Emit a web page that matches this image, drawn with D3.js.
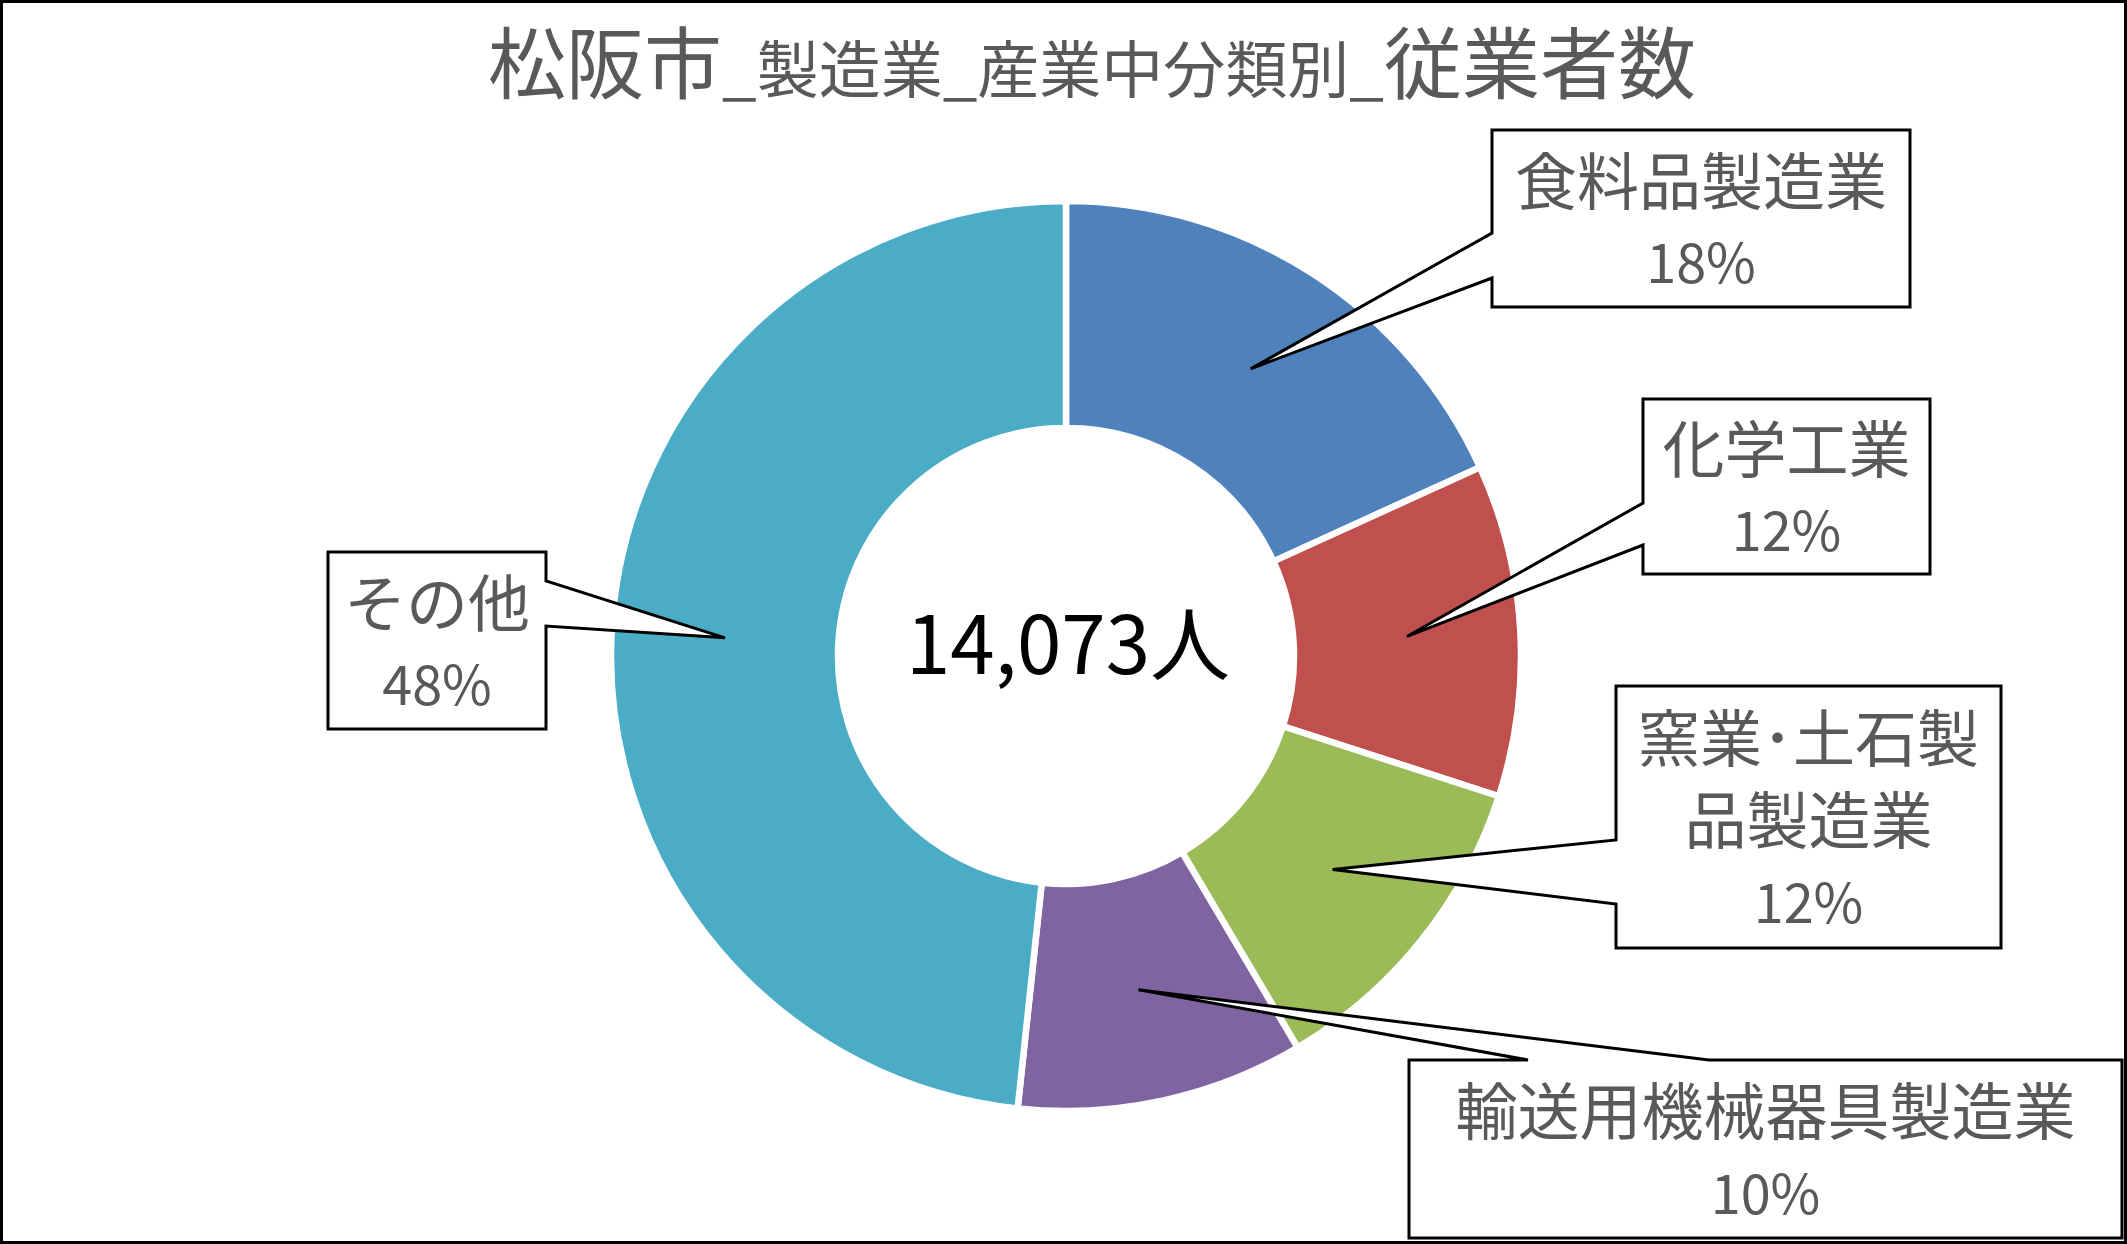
<!DOCTYPE html>
<html>
<head>
<meta charset="utf-8">
<script src="https://cdn.jsdelivr.net/npm/d3@7"></script>
<style>
  html, body { margin: 0; padding: 0; background: #fff; }
  svg { display: block; }
  text { font-family: "Noto Sans CJK JP", "Noto Sans", sans-serif; }
</style>
</head>
<body>
<svg id="chart" width="2127" height="1244"></svg>
<script>
// ---- data ----
const categories = ["食料品製造業", "化学工業", "窯業･土石製品製造業", "輸送用機械器具製造業", "その他"];
const labelLines = [["食料品製造業"], ["化学工業"], ["窯業･土石製", "品製造業"], ["輸送用機械器具製造業"], ["その他"]];
const employees = [2560, 1660, 1620, 1435, 6798];
const colors = ["#4F81BD", "#C0504D", "#9BBB59", "#8064A2", "#4BACC6"];
const titleParts = [
  { text: "松阪市", big: true },
  { text: "_製造業_産業中分類別_", big: false },
  { text: "従業者数", big: true }
];
const unitLabel = "人";

// ---- layout ----
const W = 2127, H = 1244;
const cx = 1066, cy = 656;
const outerR = 455, innerR = 228;
// callout boxes: rect + wedge base (two points on an edge)
const boxes = [
  { x: 1492, y: 130, w: 418, h: 177, edge: "left",  b1: 233, b2: 278 },
  { x: 1643, y: 399, w: 287, h: 175, edge: "left",  b1: 503, b2: 545 },
  { x: 1616, y: 686, w: 385, h: 262, edge: "left",  b1: 840, b2: 904 },
  { x: 1409, y: 1060, w: 713, h: 178, edge: "top",  b1: 1528, b2: 1709 },
  { x: 328,  y: 552, w: 218, h: 177, edge: "right", b1: 581, b2: 626 }
];

const svg = d3.select("#chart");
svg.append("rect").attr("x", 0).attr("y", 0).attr("width", W).attr("height", H).attr("fill", "#fff");

// title
const title = svg.append("text")
  .attr("x", 1092).attr("y", 93)
  .attr("text-anchor", "middle")
  .attr("fill", "#595959");
titleParts.forEach(p => {
  title.append("tspan").attr("font-size", p.big ? 78 : 62).text(p.text);
});

// donut
const pie = d3.pie().sort(null).value(d => d)(employees);
const arc = d3.arc().innerRadius(innerR).outerRadius(outerR);
const g = svg.append("g").attr("transform", `translate(${cx},${cy})`);
g.selectAll("path.slice").data(pie).join("path")
  .attr("class", "slice")
  .attr("d", arc)
  .attr("fill", (d, i) => colors[i])
  .attr("stroke", "#fff")
  .attr("stroke-width", 6.5)
  .attr("stroke-linejoin", "miter");

// center total
const total = d3.sum(employees);
svg.append("text")
  .attr("x", 1068).attr("y", 639)
  .attr("text-anchor", "middle")
  .attr("dominant-baseline", "central")
  .attr("font-size", 80)
  .attr("fill", "#000")
  .text(d3.format(",")(total) + unitLabel);

// callouts
const pct = d3.format(".0%");
const tipArc = d3.arc().innerRadius(innerR + 3).outerRadius(outerR - 3);
pie.forEach((d, i) => {
  const b = boxes[i];
  const c = tipArc.centroid(d);
  const tx = cx + c[0], ty = cy + c[1];
  let pts;
  const x0 = b.x, y0 = b.y, x1 = b.x + b.w, y1 = b.y + b.h;
  if (b.edge === "left") {
    pts = [[x0, y0], [x1, y0], [x1, y1], [x0, y1], [x0, b.b2], [tx, ty], [x0, b.b1]];
  } else if (b.edge === "right") {
    pts = [[x0, y0], [x1, y0], [x1, b.b1], [tx, ty], [x1, b.b2], [x1, y1], [x0, y1]];
  } else {
    pts = [[x0, y0], [b.b1, y0], [tx, ty], [b.b2, y0], [x1, y0], [x1, y1], [x0, y1]];
  }
  svg.append("path")
    .attr("d", "M" + pts.map(p => p.join(",")).join("L") + "Z")
    .attr("fill", "#fff")
    .attr("stroke", "#000")
    .attr("stroke-width", 3)
    .attr("stroke-linejoin", "miter");

  const lines = labelLines[i].concat([pct(employees[i] / total)]);
  const pitch = 82;
  const mid = b.y + b.h / 2;
  const startY = mid - pitch * (lines.length - 1) / 2;
  lines.forEach((t, k) => {
    const isPct = k === lines.length - 1;
    svg.append("text")
      .attr("x", b.x + b.w / 2)
      .attr("y", startY + k * pitch)
      .attr("text-anchor", "middle")
      .attr("dominant-baseline", "central")
      .attr("font-size", isPct ? 54 : 62)
      .attr("fill", "#595959")
      .text(t);
  });
});

// outer border
svg.append("rect")
  .attr("x", 1.5).attr("y", 1.5)
  .attr("width", W - 3).attr("height", H - 3)
  .attr("fill", "none").attr("stroke", "#000").attr("stroke-width", 3);
</script>
</body>
</html>
